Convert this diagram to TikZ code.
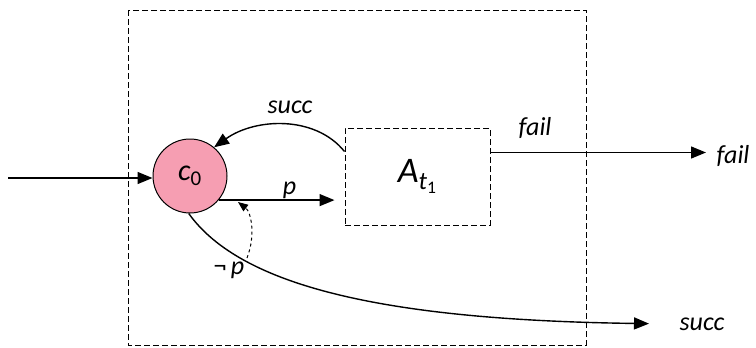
\documentclass[tikz,border=0pt]{standalone}
\usepackage{fontspec}
\setmainfont{Carlito}
\usetikzlibrary{arrows.meta,positioning}
\definecolor{nodepink}{RGB}{246,158,178}

\begin{document}
\begin{tikzpicture}[x=1pt, y=-1pt,
    lbl/.style={font=\itshape\fontsize{26}{26}\selectfont},
    arr/.style={-{Triangle[length=15pt,width=12pt]}, line width=1.4pt},
    frame/.style={dash pattern=on 6pt off 3pt, line width=1pt}]
    \useasboundingbox (0,0) rectangle (756,348);
    % --- outer frame ---
    \draw[frame] (128,10) rectangle (586,345);

    % --- nodes ---
    \node[circle, draw, line width=1pt, fill=nodepink, minimum size=74pt, inner sep=0pt,
          font=\fontsize{30}{30}\selectfont] (c0) at (190,176) {\textit{c}\textsubscript{0}};
    \node[draw, frame, minimum width=145pt, minimum height=97pt,
          font=\fontsize{36}{36}\selectfont] (At) at (417.5,176.5)
          {\textit{A}\textsubscript{\textit{t}\textsubscript{1}}};

    % --- free ends ---
    \coordinate (in) at (8,178);
    \coordinate (sA) at ([yshift=-24pt]At.north west);
    \coordinate (fA) at ([yshift=-25pt]At.north east);
    \node[lbl, anchor=west] (failout) at (713,156) {fail};
    \node[lbl, anchor=west] (succout) at (676,324) {succ};

    % --- connectors ---
    \draw[arr] (in) -- (c0.west |- in);
    \draw[arr, shorten >=10pt] (c0.-40) -- (c0.-40 -| At.west)
        node[lbl, midway, above, xshift=8pt, yshift=-3pt] (plbl) {p};
    \draw[arr] (sA) .. controls (315,115) and (255,118) .. (c0.50);
    \node[lbl] (succlbl) at (290,107) {succ};
    \draw[arr, shorten >=7pt] (fA) -- (failout.west |- fA);
    \node[lbl] (faillbl) at (535,128) {fail};
    \draw[arr, shorten >=27pt] (c0.-92) .. controls (240,285) and (380,320) .. (succout.west);
    \draw[dashed, line width=1pt, -{Triangle[length=10pt,width=8pt]}]
        (247,258) .. controls (256,235) and (251,212) .. (238,202);
    \node[font=\fontsize{26}{26}\selectfont] (notp) at (229,270) {¬\,\textit{p}};
\end{tikzpicture}
\end{document}
